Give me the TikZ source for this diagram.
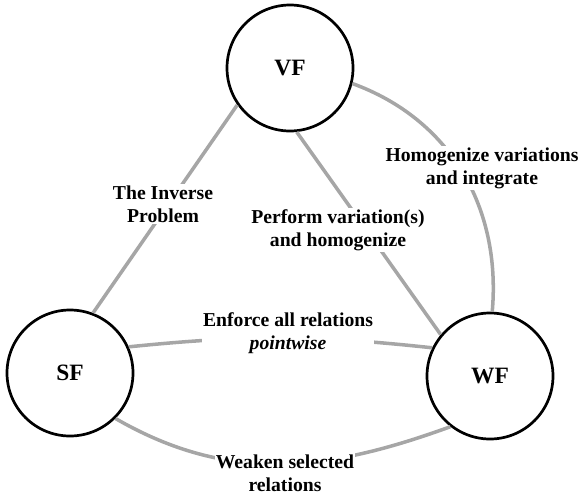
\documentclass[tikz,border=0pt]{standalone}
\usepackage{fontspec}
\setmainfont{Liberation Serif}
\tikzset{
  form/.style={draw, circle, line width=2.3pt, minimum size=3.78cm, inner sep=0pt,
    font=\fontsize{20}{22}\selectfont\bfseries},
  link/.style={line width=3pt, color=black!35},
  lbl/.style={fill=white, inner sep=1pt, align=center,
    font=\fontsize{16.8}{19.6}\selectfont\bfseries}
}

\begin{document}
\begin{tikzpicture}[x=0.03cm, y=-0.03cm]
			%%%%% START %%%%%
			\useasboundingbox (0, 0) rectangle (586, 499);
			
			\node[form] (VF) at (290, 68) {VF};
			\node[form] (SF) at (70, 373) {SF};
			\node[form] (WF) at (490, 376) {WF};
			
			\draw[link] (SF.69) -- (VF.215);
			\draw[link] (VF.276) -- (WF.140);
			\draw[link] (VF.346) to[out=-20, in=85] (WF.88);
			\draw[link] (SF.24) to[bend left=6] (WF.154);
			\draw[link] (SF.315) to[out=-30, in=200] (WF.232);
			
			\node[lbl] (inv) at (163, 204) {The Inverse\\Problem};
			\node[lbl] (perf) at (338, 230) {Perform variation(s)\\and homogenize};
			\node[lbl] (homog) at (482, 168) {Homogenize variations\\and integrate};
			\node[lbl] (enf) at (288, 333) {Enforce all relations\\\textit{pointwise}};
			\node[lbl] (weak) at (285, 473) {Weaken selected\\relations};
			
			%%%%% END %%%%%
\end{tikzpicture}
\end{document}
